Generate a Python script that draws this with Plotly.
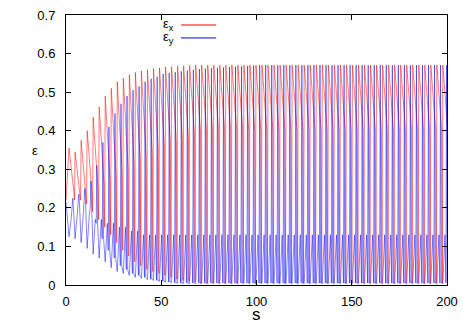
import plotly.graph_objects as go

# s position of each red spike (one per oscillation cycle)
cycle_s = [1.6, 4.77, 7.93, 11.1, 14.26, 17.43, 20.59, 23.76, 26.92, 30.09,
           33.25, 36.42, 39.58, 42.75, 45.91, 49.08, 52.24, 55.41, 58.57, 61.74,
           64.9, 68.07, 71.23, 74.4, 77.56, 80.73, 83.89, 87.06, 90.22, 93.39,
           96.55, 99.72, 102.88, 106.05, 109.21, 112.38, 115.54, 118.71, 121.87, 125.04,
           128.2, 131.37, 134.53, 137.7, 140.86, 144.03, 147.19, 150.36, 153.52, 156.69,
           159.85, 163.02, 166.18, 169.35, 172.51, 175.68, 178.84, 182.01, 185.17, 188.34,
           191.5, 194.67, 197.83]

start_s = 0.0
ex_start = 0.22
ey_start = 0.215

# eps_x per cycle: spike top, value after the slow decay, bottom before next spike
ex_peak = [0.355, 0.345, 0.375, 0.40, 0.435, 0.462, 0.49, 0.51, 0.527, 0.536,
           0.545, 0.551, 0.555, 0.558, 0.561, 0.563, 0.565, 0.566, 0.567, 0.568,
           0.569] + [0.57] * 42
ex_mid = [0.24, 0.235, 0.235, 0.24, 0.25, 0.26, 0.27, 0.28, 0.29, 0.30,
          0.31, 0.32, 0.33, 0.34, 0.35, 0.36, 0.37, 0.37, 0.38, 0.38,
          0.39] + [0.40] * 42
ex_low = [0.22, 0.22, 0.21, 0.19, 0.17, 0.15, 0.13, 0.11, 0.09, 0.075,
          0.06, 0.05, 0.04, 0.035, 0.03, 0.025, 0.02, 0.015, 0.012, 0.01,
          0.008] + [0.005] * 42

# eps_y per cycle: dip at the red spike, slow rise, dip, spike top
ey_low = [0.125, 0.12, 0.11, 0.095, 0.08, 0.07, 0.06, 0.045, 0.035, 0.03,
          0.025, 0.02, 0.017, 0.014, 0.012, 0.01, 0.008, 0.006, 0.005, 0.004,
          0.004] + [0.004] * 42
ey_mid = [0.17, 0.18, 0.18, 0.18, 0.17, 0.17, 0.16, 0.16, 0.15, 0.15,
          0.14, 0.14] + [0.13] * 51
ey_low2 = [0.20, 0.21, 0.22, 0.20, 0.16, 0.12, 0.09, 0.07, 0.05, 0.04,
           0.03, 0.025, 0.02, 0.015, 0.012, 0.01, 0.008, 0.006, 0.005, 0.005,
           0.005] + [0.005] * 42
ey_peak = [0.225, 0.235, 0.25, 0.27, 0.31, 0.37, 0.41, 0.445, 0.47, 0.49,
           0.505, 0.515, 0.527, 0.535, 0.54, 0.547, 0.55, 0.552, 0.554, 0.556,
           0.558, 0.56, 0.561, 0.562, 0.563, 0.564, 0.565, 0.566, 0.567, 0.568,
           0.569] + [0.57] * 32

y_ticks = [0, 0.1, 0.2, 0.3, 0.4, 0.5, 0.6, 0.7]
x_ticks = [0, 50, 100, 150, 200]

FONT = "Liberation Sans, Arial, sans-serif"

# build the polylines, cycle by cycle (sharp spikes, slow relaxations)
ex_s, ex_v = [start_s], [ex_start]
ey_s, ey_v = [start_s], [ey_start]
for k, s in enumerate(cycle_s):
    ex_s += [s, s + 2.55, s + 2.85]
    ex_v += [ex_peak[k], ex_mid[k], ex_low[k]]
    ey_s += [s, s + 1.1, s + 1.6, s + 1.95, s + 2.3]
    ey_v += [ey_low[k], ey_mid[k], ey_low2[k], ey_peak[k], ey_low2[k]]

fig = go.Figure()
fig.add_trace(go.Scatter(x=ex_s, y=ex_v, mode="lines", name="εx",
                         line=dict(color="rgba(255,0,0,0.8)", width=0.65)))
fig.add_trace(go.Scatter(x=ey_s, y=ey_v, mode="lines", name="εy",
                         line=dict(color="rgba(0,0,255,0.75)", width=0.65)))

axis_style = dict(showgrid=False, zeroline=False, showline=True, linecolor="black",
                  linewidth=1, mirror="ticks", ticks="inside", ticklen=5,
                  tickcolor="black", automargin=False,
                  tickfont=dict(family=FONT, size=13, color="black"))

fig.update_xaxes(range=[0, 200], tickvals=x_ticks, ticklabelstandoff=4, **axis_style)
fig.update_yaxes(range=[0, 0.7], tickvals=y_ticks, ticklabelstandoff=7, **axis_style)

# gnuplot style key: label on the left, line sample on the right
key = [("ε<sub>x</sub>", "#ff0000", 0.963), ("ε<sub>y</sub>", "#0000ff", 0.915)]
for label, color, yk in key:
    fig.add_annotation(xref="paper", yref="paper", x=0.29, y=yk, text=label,
                       showarrow=False, xanchor="right", yanchor="middle",
                       font=dict(family=FONT, size=13, color="black"))
    fig.add_shape(type="line", xref="paper", yref="paper", x0=0.302, x1=0.394,
                  y0=yk, y1=yk, line=dict(color=color, width=1))

# axis titles
fig.add_annotation(xref="paper", yref="paper", x=-0.095, y=0.5, text="ε",
                   showarrow=False, font=dict(family=FONT, size=13, color="black"))
fig.add_annotation(xref="paper", yref="paper", x=0.5, y=-0.11, text="s",
                   showarrow=False, yanchor="middle",
                   font=dict(family=FONT, size=17, color="black"))

fig.update_layout(
    width=463, height=324,
    margin=dict(l=66, r=16, t=15, b=39),
    paper_bgcolor="white", plot_bgcolor="white",
    showlegend=False,
)

# page body has a default 8px margin, drop it so the figure sits at the corner
fig.write_html("out.html", config={"displayModeBar": False},
               post_script="document.body.style.margin='0';"
                           "document.body.style.overflow='hidden';")
